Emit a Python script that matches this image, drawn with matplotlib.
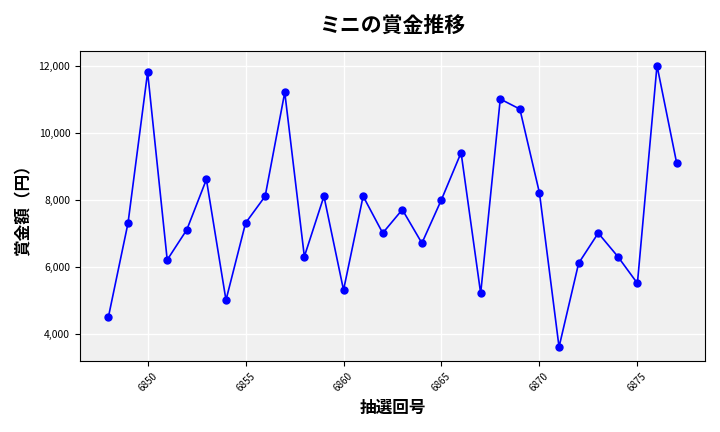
import matplotlib
matplotlib.use("Agg")
import matplotlib.pyplot as plt
from matplotlib.ticker import FuncFormatter

plt.rcParams['font.family'] = ['Noto Sans CJK JP', 'DejaVu Sans']

draws = list(range(6848, 6878))
prizes = [4500, 7300, 11800, 6200, 7100, 8600, 5000, 7300, 8100, 11200,
          6300, 8100, 5300, 8100, 7000, 7700, 6700, 8000, 9400, 5200,
          11000, 10700, 8200, 3600, 6100, 7000, 6300, 5500, 12000, 9100]

fig, ax = plt.subplots(figsize=(7.2, 4.32), dpi=100)
ax.set_facecolor('#f0f0f0')
ax.grid(True, color='white', linewidth=1)
ax.set_axisbelow(True)
ax.plot(draws, prizes, color='blue', marker='o', markersize=5, linewidth=1.2)
ax.set_title('ミニの賞金推移', fontsize=15, fontweight='bold', pad=14)
ax.set_xlabel('抽選回号', fontsize=12, fontweight='bold')
ax.set_ylabel('賞金額（円）', fontsize=12, fontweight='bold')
ax.yaxis.set_major_formatter(FuncFormatter(lambda v, p: f'{int(v):,}'))
ax.set_xticks(range(6850, 6880, 5))
ax.tick_params(axis='x', labelrotation=45, labelsize=7)
ax.tick_params(axis='y', labelsize=7.5)
fig.tight_layout()
fig.savefig('out.png')
